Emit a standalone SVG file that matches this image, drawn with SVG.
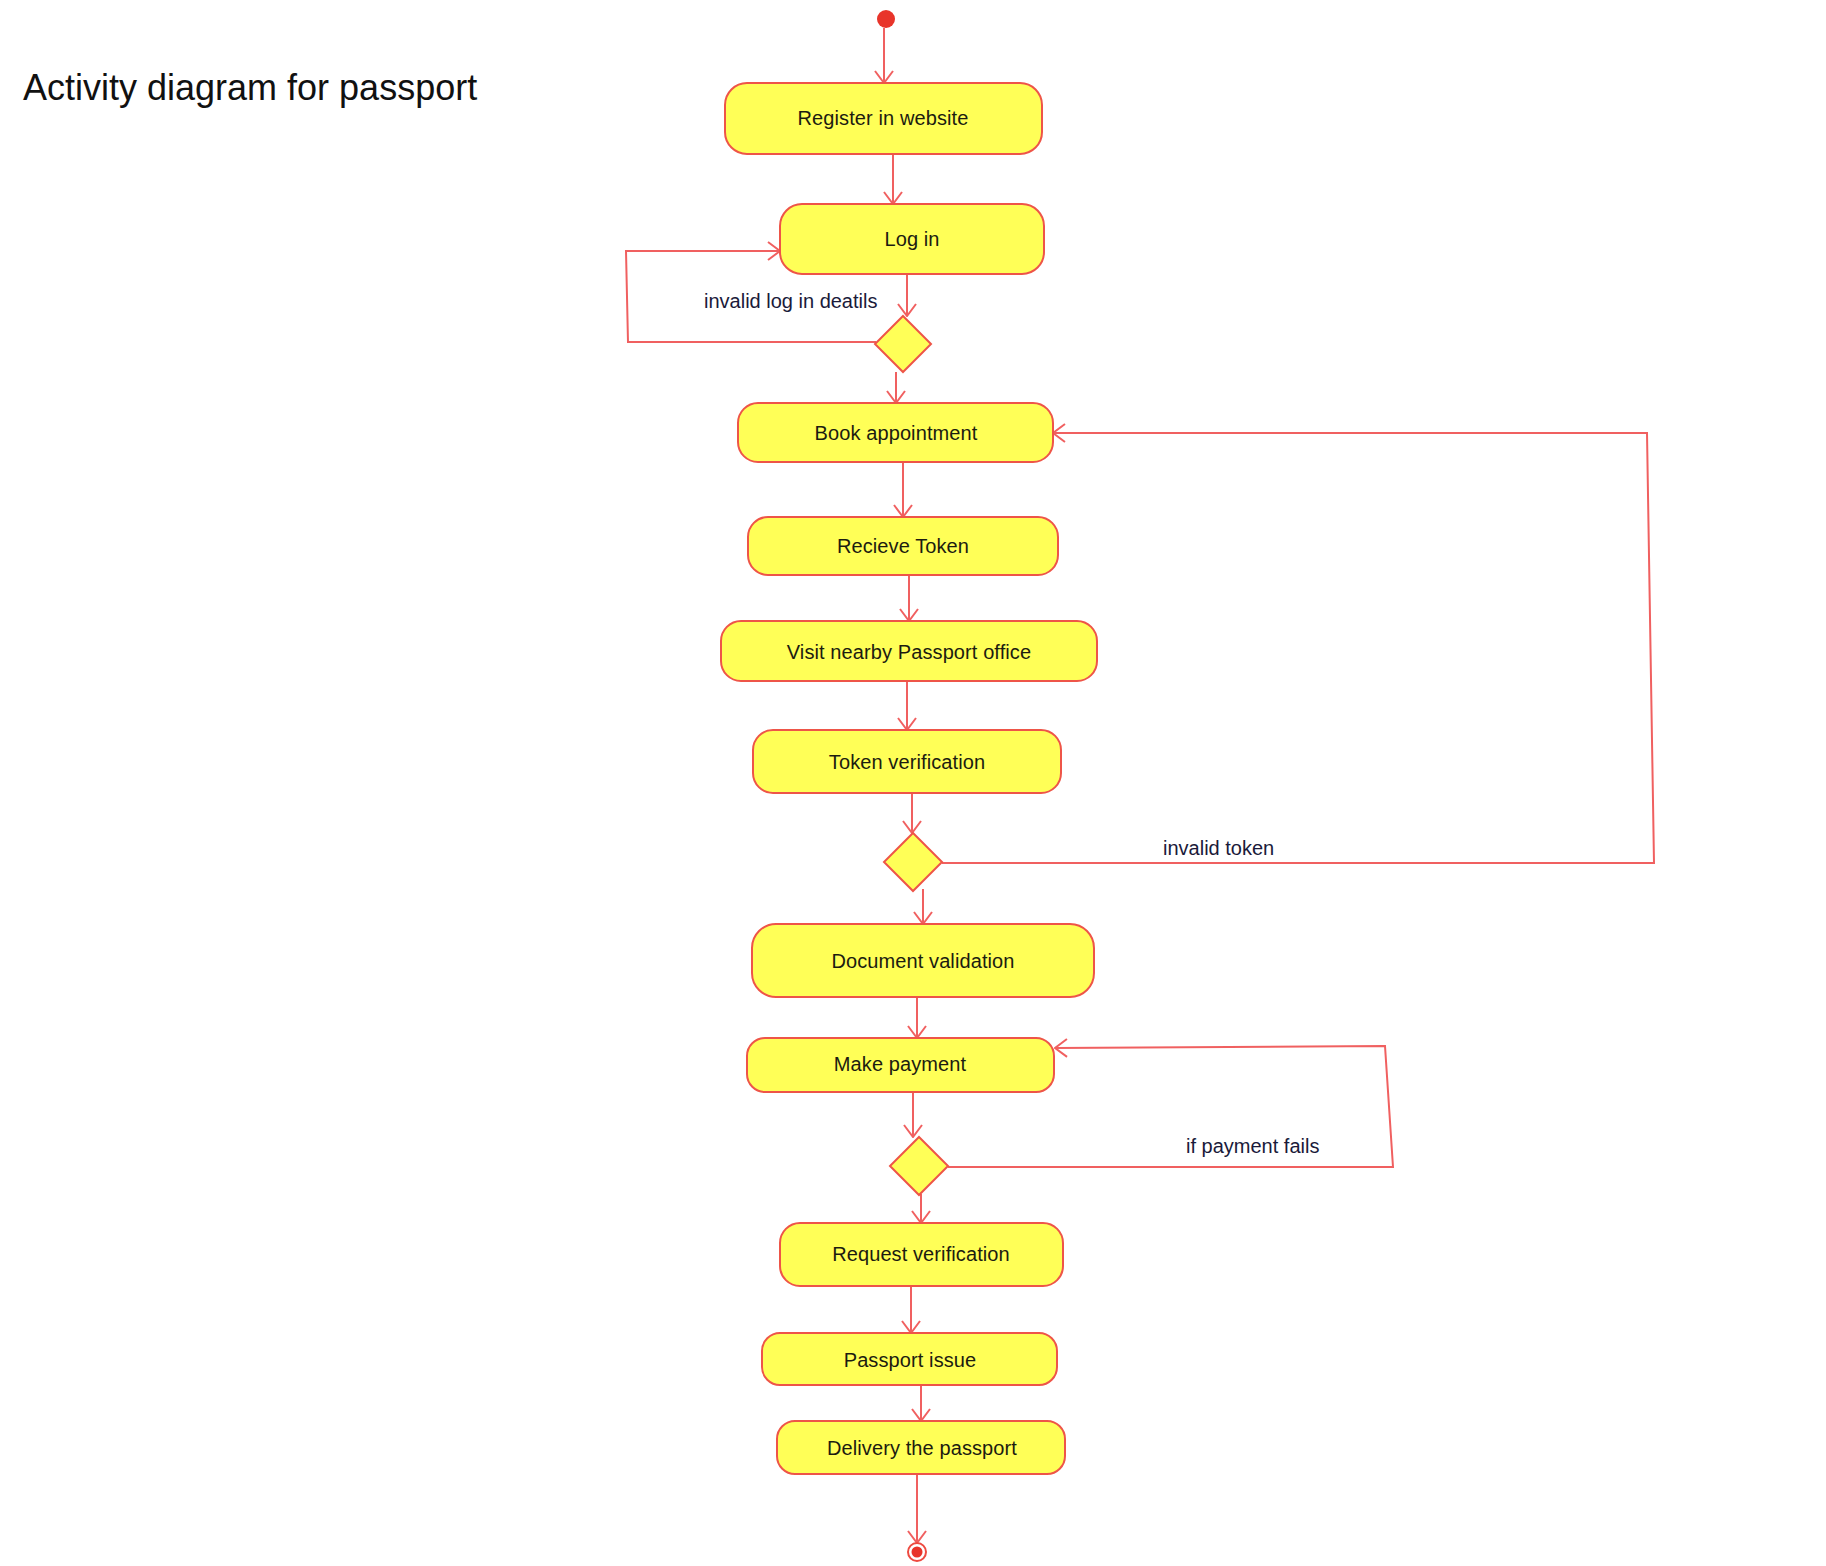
<svg xmlns="http://www.w3.org/2000/svg" width="1826" height="1566" viewBox="0 0 1826 1566">
  <defs>
    <style>
      .act { fill: #ffff57; stroke: #ee5548; stroke-width: 2; }
      .dec { fill: #ffff57; stroke: #ee5548; stroke-width: 2; }
      .lbl { font-family: "Liberation Sans", Arial, sans-serif; font-size: 20px; letter-spacing: 0.1px; fill: #1c1c10; text-anchor: middle; dominant-baseline: central; }
      .guard { font-family: "Liberation Sans", Arial, sans-serif; font-size: 20px; fill: #1a1a3a; }
      .edge { fill: none; stroke: #f06060; stroke-width: 2; }
      .title { font-family: "Liberation Sans", Arial, sans-serif; font-size: 36px; fill: #111111; }
    </style>
    <marker id="arr" viewBox="0 0 14 20" refX="13" refY="10" markerWidth="14" markerHeight="20" markerUnits="userSpaceOnUse" orient="auto">
      <path d="M1,1 L13,10 L1,19" fill="none" stroke="#f06060" stroke-width="2"/>
    </marker>
  </defs>
  <rect width="1826" height="1566" fill="#ffffff"/>

  <text class="title" x="23" y="100">Activity diagram for passport</text>

  <g id="connectors">
    <path class="edge" d="M884,28 L884,83" marker-end="url(#arr)"/>
    <path class="edge" d="M893,154 L893,204" marker-end="url(#arr)"/>
    <path class="edge" d="M907,274 L907,316" marker-end="url(#arr)"/>
    <path class="edge" d="M876,342 L628,342 L626,251 L780,251" marker-end="url(#arr)"/>
    <path class="edge" d="M896,372 L896,403" marker-end="url(#arr)"/>
    <path class="edge" d="M903,462 L903,517" marker-end="url(#arr)"/>
    <path class="edge" d="M909,575 L909,621" marker-end="url(#arr)"/>
    <path class="edge" d="M907,681 L907,730" marker-end="url(#arr)"/>
    <path class="edge" d="M912,793 L912,833" marker-end="url(#arr)"/>
    <path class="edge" d="M942,863 L1654,863 L1647,433 L1053,433" marker-end="url(#arr)"/>
    <path class="edge" d="M923,889 L923,924" marker-end="url(#arr)"/>
    <path class="edge" d="M917,997 L917,1038" marker-end="url(#arr)"/>
    <path class="edge" d="M913,1092 L913,1137" marker-end="url(#arr)"/>
    <path class="edge" d="M948,1167 L1393,1167 L1385,1046 L1055,1048" marker-end="url(#arr)"/>
    <path class="edge" d="M921,1194 L921,1223" marker-end="url(#arr)"/>
    <path class="edge" d="M911,1286 L911,1333" marker-end="url(#arr)"/>
    <path class="edge" d="M921,1385 L921,1421" marker-end="url(#arr)"/>
    <path class="edge" d="M917,1474 L917,1543" marker-end="url(#arr)"/>
    <text class="guard" x="704" y="308">invalid log in deatils</text>
    <text class="guard" x="1163" y="855">invalid token</text>
    <text class="guard" x="1186" y="1153">if payment fails</text>
  </g>

  <g id="start">
    <circle cx="886" cy="19" r="9" fill="#e8342a"/>
  </g>
  <g id="register">
    <rect class="act" x="725" y="83" width="317" height="71" rx="22"/>
    <text class="lbl" x="883" y="118">Register in website</text>
  </g>
  <g id="login">
    <rect class="act" x="780" y="204" width="264" height="70" rx="22"/>
    <text class="lbl" x="912" y="239">Log in</text>
  </g>
  <g id="decision-login">
    <polygon class="dec" points="903,316 931,344 903,372 875,344"/>
  </g>
  <g id="book">
    <rect class="act" x="738" y="403" width="315" height="59" rx="20"/>
    <text class="lbl" x="896" y="433">Book appointment</text>
  </g>
  <g id="receive">
    <rect class="act" x="748" y="517" width="310" height="58" rx="20"/>
    <text class="lbl" x="903" y="546">Recieve Token</text>
  </g>
  <g id="visit">
    <rect class="act" x="721" y="621" width="376" height="60" rx="20"/>
    <text class="lbl" x="909" y="652">Visit nearby Passport office</text>
  </g>
  <g id="token">
    <rect class="act" x="753" y="730" width="308" height="63" rx="20"/>
    <text class="lbl" x="907" y="762">Token verification</text>
  </g>
  <g id="decision-token">
    <polygon class="dec" points="913,833 942,862 913,891 884,862"/>
  </g>
  <g id="document">
    <rect class="act" x="752" y="924" width="342" height="73" rx="24"/>
    <text class="lbl" x="923" y="961">Document validation</text>
  </g>
  <g id="payment">
    <rect class="act" x="747" y="1038" width="307" height="54" rx="18"/>
    <text class="lbl" x="900" y="1064">Make payment</text>
  </g>
  <g id="decision-payment">
    <polygon class="dec" points="919,1137 948,1166 919,1195 890,1166"/>
  </g>
  <g id="request">
    <rect class="act" x="780" y="1223" width="283" height="63" rx="20"/>
    <text class="lbl" x="921" y="1254">Request verification</text>
  </g>
  <g id="issue">
    <rect class="act" x="762" y="1333" width="295" height="52" rx="18"/>
    <text class="lbl" x="910" y="1360">Passport issue</text>
  </g>
  <g id="delivery">
    <rect class="act" x="777" y="1421" width="288" height="53" rx="18"/>
    <text class="lbl" x="922" y="1448">Delivery the passport</text>
  </g>
  <g id="end">
    <circle cx="917" cy="1552" r="9" fill="#ffffff" stroke="#ee4a40" stroke-width="2"/>
    <circle cx="917" cy="1552" r="5.5" fill="#e8342a"/>
  </g>
</svg>
